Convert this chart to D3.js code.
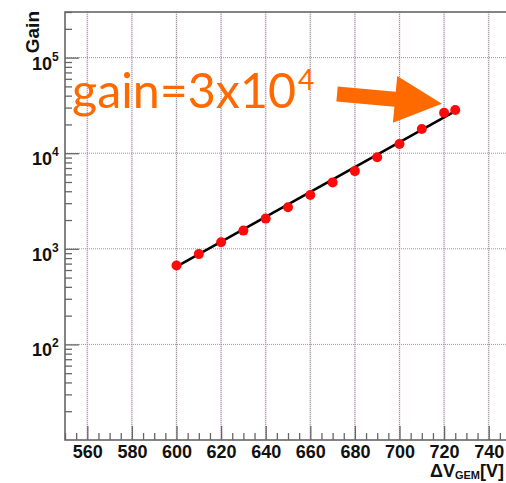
<!DOCTYPE html>
<html>
<head>
<meta charset="utf-8">
<script src="https://cdn.jsdelivr.net/npm/d3@7"></script>
<style>
    body { margin: 0; background: #fff; }
    svg { display: block; }
</style>
</head>
<body>
<div id="chart"></div>
<script>
// measured gain vs GEM voltage
const voltage = [600, 610, 620, 630, 640, 650, 660, 670, 680, 690, 700, 710, 720, 725];
const gain = [670, 880, 1170, 1550, 2070, 2720, 3650, 4950, 6500, 9080, 12500, 17900, 26500, 28300];

// exponential fit, drawn between its end points
const fitVoltage = [600, 725];
const fitGain = [650, 27500];

const xTicks = [560, 580, 600, 620, 640, 660, 680, 700, 720, 740];
const yDecades = [100, 1000, 10000, 100000];
const yExponents = ['2', '3', '4', '5'];

// arrow pointing at the last points (tail -> tip, in data units)
const arrowVoltage = [672, 719];
const arrowGain = [41700, 33000];

let margin = {top: 12, left: 65},
    width = 446,
    height = 428;

let svg = d3.select('#chart').append('svg')
    .attr('width', 506)
    .attr('height', 483);

let x = d3.scaleLinear().domain([550, 750]).range([margin.left, margin.left + width]);
let y = d3.scaleLog().domain([10, 300000]).range([margin.top + height, margin.top]);

const axisColor = '#666';
const font = 'Liberation Sans, Arial, Helvetica, sans-serif';

// grid
let grid = svg.append('g');
grid.selectAll('line.vgrid')
    .data(xTicks)
    .enter().append('line')
    .attr('x1', d => x(d)).attr('x2', d => x(d))
    .attr('y1', margin.top).attr('y2', margin.top + height)
    .attr('stroke', '#f1e4f1').attr('stroke-width', 2);
grid.selectAll('line.vdot')
    .data(xTicks)
    .enter().append('line')
    .attr('x1', d => x(d)).attr('x2', d => x(d))
    .attr('y1', margin.top).attr('y2', margin.top + height)
    .attr('stroke', '#999').attr('stroke-width', 1).attr('stroke-dasharray', '1,1');
grid.selectAll('line.hdot')
    .data(yDecades)
    .enter().append('line')
    .attr('x1', margin.left).attr('x2', margin.left + width)
    .attr('y1', d => y(d)).attr('y2', d => y(d))
    .attr('stroke', '#999').attr('stroke-width', 1).attr('stroke-dasharray', '1,1');

// x axis ticks (inside)
let minorX = d3.range(550, 751, 5).filter(v => v % 20 !== 0);
svg.append('g')
    .attr('transform', 'translate(0,' + (margin.top + height) + ')')
    .call(d3.axisBottom(x).tickValues(minorX).tickSize(-7).tickFormat(''))
    .call(g => g.select('.domain').remove())
    .call(g => g.selectAll('line').attr('stroke', axisColor).attr('stroke-width', 1.3));
svg.append('g')
    .attr('transform', 'translate(0,' + (margin.top + height) + ')')
    .call(d3.axisBottom(x).tickValues(xTicks).tickSize(-14).tickPadding(5).tickFormat(d3.format('d')))
    .call(g => g.select('.domain').remove())
    .call(g => g.selectAll('line').attr('stroke', axisColor).attr('stroke-width', 1.3))
    .call(g => g.selectAll('text')
        .attr('fill', '#111')
        .style('font-family', font)
        .style('font-weight', 'bold')
        .style('font-size', '18px'));

// y axis ticks (inside)
let minorY = [];
[10, 100, 1000, 10000, 100000].forEach(dec => {
    for (let k = 2; k <= 9; k++) {
        if (dec * k <= 300000) minorY.push(dec * k);
    }
});
svg.append('g')
    .attr('transform', 'translate(' + margin.left + ',0)')
    .call(d3.axisLeft(y).tickValues(minorY).tickSize(-7).tickFormat(''))
    .call(g => g.select('.domain').remove())
    .call(g => g.selectAll('line').attr('stroke', axisColor).attr('stroke-width', 1.3));
svg.append('g')
    .attr('transform', 'translate(' + margin.left + ',0)')
    .call(d3.axisLeft(y).tickValues(yDecades).tickSize(-14).tickFormat(''))
    .call(g => g.select('.domain').remove())
    .call(g => g.selectAll('line').attr('stroke', axisColor).attr('stroke-width', 1.3));

// 10^n labels
let yLabels = svg.append('g')
    .style('font-family', font)
    .style('font-weight', 'bold')
    .attr('fill', '#111');
yDecades.forEach((d, i) => {
    let t = yLabels.append('text')
        .attr('x', 32)
        .attr('y', y(d) + 12)
        .style('font-size', '18px');
    t.append('tspan').text('10');
    t.append('tspan')
        .attr('dy', -9)
        .style('font-size', '12px')
        .text(yExponents[i]);
});

// frame
svg.append('rect')
    .attr('x', margin.left).attr('y', margin.top)
    .attr('width', width).attr('height', height)
    .attr('fill', 'none')
    .attr('stroke', axisColor)
    .attr('stroke-width', 1.6);

// axis titles
svg.append('text')
    .attr('transform', 'translate(39,' + 11 + ') rotate(-90)')
    .attr('text-anchor', 'end')
    .style('font-family', font)
    .style('font-weight', 'bold')
    .style('font-size', '19px')
    .attr('fill', '#111')
    .text('Gain');

let xTitle = svg.append('text')
    .attr('x', 430)
    .attr('y', 477)
    .style('font-family', font)
    .style('font-weight', 'bold')
    .style('font-size', '18px')
    .attr('fill', '#111');
xTitle.append('tspan').text('ΔV');
xTitle.append('tspan').attr('dy', 2).style('font-size', '11px').text('GEM');
xTitle.append('tspan').attr('dy', -2).text('[V]');

// fit line
let line = d3.line()
    .x(d => x(d[0]))
    .y(d => y(d[1]));
svg.append('path')
    .datum(d3.zip(fitVoltage, fitGain))
    .attr('d', line)
    .attr('fill', 'none')
    .attr('stroke', '#000')
    .attr('stroke-width', 2.5);

// points
svg.selectAll('circle.pt')
    .data(d3.zip(voltage, gain))
    .enter().append('circle')
    .attr('cx', d => x(d[0]))
    .attr('cy', d => y(d[1]))
    .attr('r', 5)
    .attr('fill', '#ff0a0a');

// annotation arrow
const orange = '#ff6a00';
(function drawArrow() {
    let x0 = x(arrowVoltage[0]), y0 = y(arrowGain[0]);
    let x1 = x(arrowVoltage[1]), y1 = y(arrowGain[1]);
    let len = Math.hypot(x1 - x0, y1 - y0);
    let ux = (x1 - x0) / len, uy = (y1 - y0) / len;
    let nx = -uy, ny = ux;
    let shaft = 7.5, head = 23.5, headLen = 47;
    let bx = x1 - ux * headLen, by = y1 - uy * headLen;
    let pts = [
        [x0 + nx * shaft, y0 + ny * shaft],
        [bx + nx * shaft, by + ny * shaft],
        [bx + nx * head, by + ny * head],
        [x1, y1],
        [bx - nx * head, by - ny * head],
        [bx - nx * shaft, by - ny * shaft],
        [x0 - nx * shaft, y0 - ny * shaft]
    ];
    svg.append('polygon')
        .attr('points', pts.map(p => p.join(',')).join(' '))
        .attr('fill', orange);
})();

// annotation text
let note = svg.append('g')
    .style('font-family', 'Lato, "Open Sans", sans-serif')
    .attr('fill', orange);
note.append('text')
    .attr('x', 72)
    .attr('y', 108)
    .attr('textLength', 224)
    .attr('lengthAdjust', 'spacingAndGlyphs')
    .style('font-size', '48px')
    .text('gain=3x10');
note.append('text')
    .attr('x', 298)
    .attr('y', 90)
    .style('font-size', '28px')
    .text('4');
</script>
</body>
</html>
